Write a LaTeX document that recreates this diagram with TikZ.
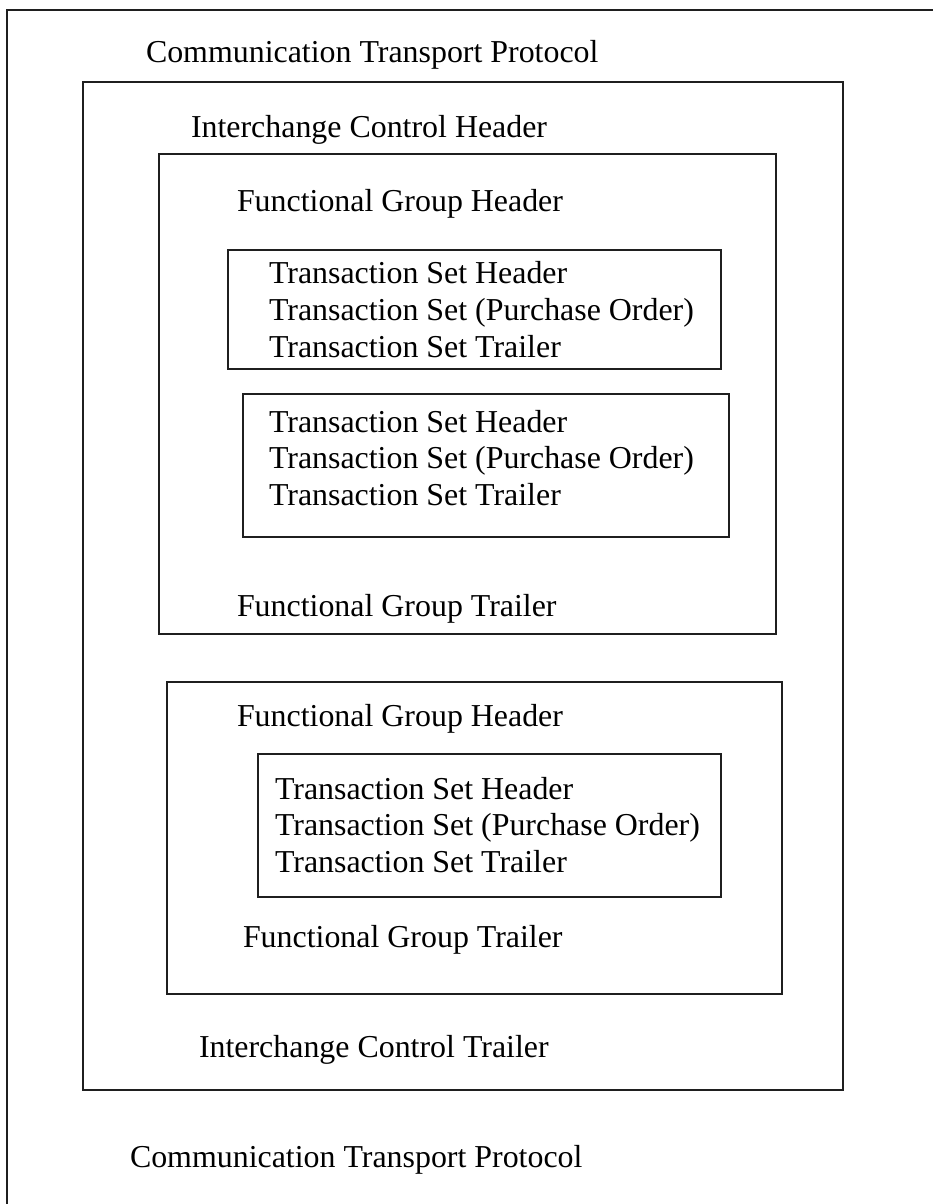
\documentclass[tikz,border=0pt]{standalone}
\usepackage{fontspec}
\setmainfont{Liberation Serif}
\begin{document}
\begin{tikzpicture}[x=1pt,y=-1pt,
  frame/.style={draw=black!88,line width=1.5pt},
  lbl/.style={anchor=base west,inner sep=0pt,outer sep=0pt,font=\fontsize{31.9}{36}\selectfont}]
\useasboundingbox[fill=white] (0,0) rectangle (933,1204);
% outer frame (right and bottom edges lie outside the picture)
\draw[frame] (7,1204) -- (7,10) -- (933,10);
% nested boxes
\draw[frame] (83,82) rectangle (843,1090);
\draw[frame] (159,154) rectangle (776,634);
\draw[frame] (228,250) rectangle (721,369);
\draw[frame] (243,394) rectangle (729,537);
\draw[frame] (167,682) rectangle (782,994);
\draw[frame] (258,754) rectangle (721,897);
% texts
\node[lbl] (ctpTop) at (146,63) {Communication Transport Protocol};
\node[lbl] (ich) at (191,137) {Interchange Control Header};
\node[lbl] (fgh1) at (237,211) {Functional Group Header};
\node[lbl] (ts1a) at (269,283) {Transaction Set Header};
\node[lbl] (ts1b) at (269,320) {Transaction Set (Purchase Order)};
\node[lbl] (ts1c) at (269,357) {Transaction Set Trailer};
\node[lbl] (ts2a) at (269,432) {Transaction Set Header};
\node[lbl] (ts2b) at (269,468) {Transaction Set (Purchase Order)};
\node[lbl] (ts2c) at (269,505) {Transaction Set Trailer};
\node[lbl] (fgt1) at (237,616) {Functional Group Trailer};
\node[lbl] (fgh2) at (237,726) {Functional Group Header};
\node[lbl] (ts3a) at (275,799) {Transaction Set Header};
\node[lbl] (ts3b) at (275,835) {Transaction Set (Purchase Order)};
\node[lbl] (ts3c) at (275,872) {Transaction Set Trailer};
\node[lbl] (fgt2) at (243,947) {Functional Group Trailer};
\node[lbl] (ict) at (199,1057) {Interchange Control Trailer};
\node[lbl] (ctpBot) at (130,1167) {Communication Transport Protocol};
\end{tikzpicture}
\end{document}
